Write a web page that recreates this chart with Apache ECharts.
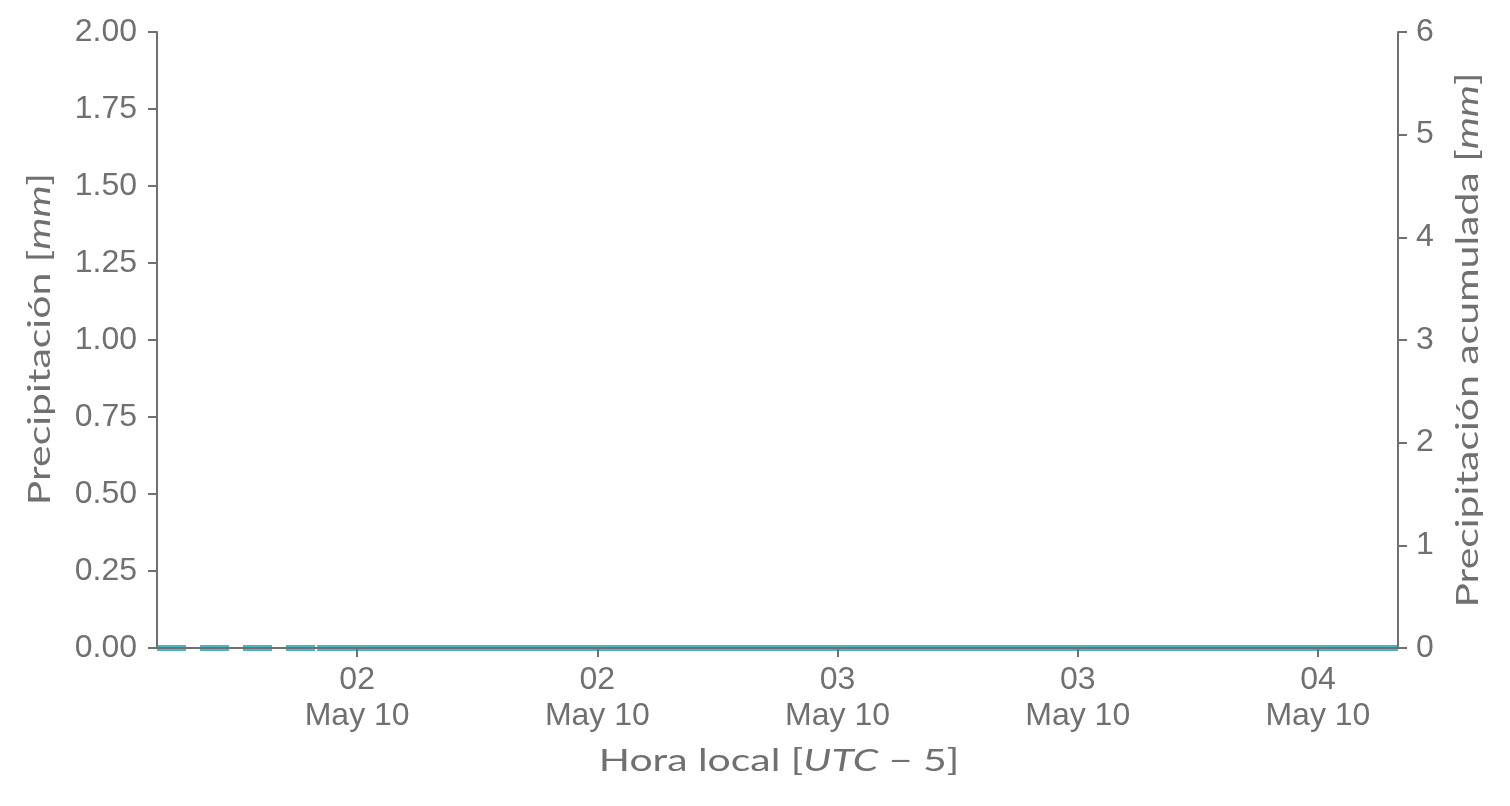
<!DOCTYPE html>
<html>
<head>
<meta charset="utf-8">
<script src="https://cdn.jsdelivr.net/npm/echarts@6/dist/echarts.min.js"></script>
<style>
html,body{margin:0;padding:0;background:#fff;}
#chart{width:1510px;height:806px;}
</style>
</head>
<body>
<div id="chart"></div>
<script>
// Data (UTC-5 local time, day shown as "May 10")
var times = ['01:35','01:40','01:45','01:50','01:55','02:00','02:05','02:10','02:15','02:20','02:25','02:30','02:35','02:40','02:45','02:50','02:55','03:00','03:05','03:10','03:15','03:20','03:25','03:30','03:35','03:40','03:45','03:50','03:55','04:00','04:05','04:10'];
var precipitacion = [0,0,0,0,0,0,0,0,0,0,0,0,0,0,0,0,0,0,0,0,0,0,0,0,0,0,0,0,0,0,0,0];
var accumTimes = ['01:55','02:00','02:05','02:10','02:15','02:20','02:25','02:30','02:35','02:40','02:45','02:50','02:55','03:00','03:05','03:10','03:15','03:20','03:25','03:30','03:35','03:40','03:45','03:50','03:55','04:00','04:05','04:10'];
var acumulada = [0,0,0,0,0,0,0,0,0,0,0,0,0,0,0,0,0,0,0,0,0,0,0,0,0,0,0,0];
var tickTimes = ['02:00','02:30','03:00','03:30','04:00'];
var dayLabel = 'May 10';
var xMin = '01:35', xMax = '04:10';
var xTitle = '{n|Hora local [}{i|UTC}{n| − 5]}';
var yTitleLeft = '{n|Precipitación [}{i|mm}{n|]}';
var yTitleRight = '{n|Precipitación acumulada [}{i|mm}{n|]}';

// minutes since local midnight
function mins(hm){ var p = hm.split(':'); return (+p[0])*60 + (+p[1]); }
function pad(n){ return (n<10?'0':'')+n; }

var grey = '#707070';
var lineColor = '#4cb5c5';
var titleFont = 'Lato, "Noto Sans", sans-serif';
var tickFont = '"Liberation Sans", Arial, sans-serif';
var titleSize = 31;
var tickSize = 32;
var titleStretch = 1.32;

var titleRich = {
  n: {fontFamily: titleFont, fontSize: titleSize, fill: grey},
  i: {fontFamily: titleFont, fontSize: titleSize, fill: grey, fontStyle: 'italic'}
};
function titleText(txt, x, y, rot){
  return {
    type: 'text', x: x, y: y, rotation: rot, scaleX: titleStretch, scaleY: 1, silent: true,
    style: {text: txt, x: 0, y: 0, align: 'center', verticalAlign: 'middle',
      fill: grey, fontFamily: titleFont, fontSize: titleSize, rich: titleRich}
  };
}

var tickVals = tickTimes.map(mins);

var chart = echarts.init(document.getElementById('chart'));
chart.setOption({
  animation: false,
  grid: {left: 157, right: 112, top: 32, bottom: 158, containLabel: false},
  graphic: [
    titleText(xTitle, 779, 761, 0),
    titleText(yTitleLeft, 40, 339, Math.PI/2),
    titleText(yTitleRight, 1468, 340, Math.PI/2)
  ],
  xAxis: {
    type: 'value',
    min: mins(xMin), max: mins(xMax),
    z: 5,
    axisLine: {show: true, lineStyle: {color: grey, width: 2}},
    axisTick: {show: true, length: 9, customValues: tickVals, lineStyle: {color: grey, width: 2}},
    splitLine: {show: false},
    axisLabel: {
      color: grey, fontFamily: tickFont, fontSize: tickSize, lineHeight: 36, margin: 14,
      customValues: tickVals,
      formatter: function(v){ return pad(Math.floor(v/60)) + '\n' + dayLabel; }
    }
  },
  yAxis: [{
    type: 'value', min: 0, max: 2, interval: 0.25,
    position: 'left',
    z: 5,
    axisLine: {show: true, lineStyle: {color: grey, width: 2}},
    axisTick: {show: true, length: 9, lineStyle: {color: grey, width: 2}},
    splitLine: {show: false},
    axisLabel: {color: grey, fontFamily: tickFont, fontSize: tickSize, margin: 20,
      formatter: function(v){ return v.toFixed(2); }}
  }, {
    type: 'value', min: 0, max: 6, interval: 1,
    position: 'right',
    z: 5,
    axisLine: {show: true, lineStyle: {color: grey, width: 2}},
    axisTick: {show: true, length: 9, lineStyle: {color: grey, width: 2}},
    splitLine: {show: false},
    axisLabel: {color: grey, fontFamily: tickFont, fontSize: tickSize, margin: 18}
  }],
  series: [{
    type: 'line', yAxisIndex: 0, showSymbol: false, z: 2,
    data: times.map(function(t,i){ return [mins(t), precipitacion[i]]; }),
    lineStyle: {color: lineColor, width: 6, type: [29, 14]}
  }, {
    type: 'line', yAxisIndex: 1, showSymbol: false, z: 3,
    data: accumTimes.map(function(t,i){ return [mins(t), acumulada[i]]; }),
    lineStyle: {color: lineColor, width: 6, type: 'solid'}
  }]
});
</script>
</body>
</html>
